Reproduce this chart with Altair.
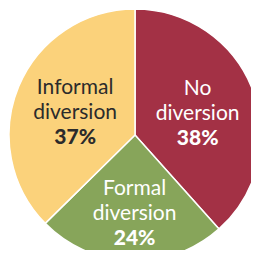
import altair as alt
import pandas as pd

categories = ["No diversion", "Formal diversion", "Informal diversion"]
values = [38, 24, 37]
line1 = ["No", "Formal", "Informal"]
line2 = ["diversion", "diversion", "diversion"]
pct_labels = ["38%", "24%", "37%"]
order_idx = [0, 1, 2]

slice_colors = ["#A33145", "#87A55A", "#FBD27B"]
text_colors = ["#FFFFFF", "#FFFFFF", "#2B2B2B"]

df = pd.DataFrame({
    "category": categories,
    "value": values,
    "l1": line1,
    "l2": line2,
    "pct": pct_labels,
    "idx": order_idx,
})

CX, CY, R = 127, 127, 126

base = alt.Chart(df)

arcs = base.mark_arc(outerRadius=R, stroke="white", strokeWidth=1.5).encode(
    theta=alt.Theta("value:Q", stack=True),
    order=alt.Order("idx:Q"),
    color=alt.Color("category:N", scale=alt.Scale(domain=categories, range=slice_colors), legend=None),
    x=alt.value(CX),
    y=alt.value(CY),
)

lab = base.transform_window(
    cum="sum(value)", sort=[alt.SortField("idx")]
).transform_joinaggregate(
    total="sum(value)"
).transform_calculate(
    mid="(datum.cum - datum.value/2) / datum.total * 2 * PI",
    r="datum.category == 'Formal diversion' ? 76 : 66",
).transform_calculate(
    lx=f"{CX} + datum.r * sin(datum.mid) + (datum.category == 'Formal diversion' ? 2 : 1)",
    ly=f"{CY} - datum.r * cos(datum.mid)",
)

pos = dict(
    x=alt.X("lx:Q", scale=None),
    y=alt.Y("ly:Q", scale=None),
    fill=alt.Fill("category:N", scale=alt.Scale(domain=categories, range=text_colors), legend=None),
)

t1 = lab.mark_text(font="Lato", fontSize=21, dy=-22, align="center", baseline="middle").encode(text="l1:N", **pos)
t2 = lab.mark_text(font="Lato", fontSize=21, dy=3, align="center", baseline="middle").encode(text="l2:N", **pos)
t3 = lab.mark_text(font="Lato", fontSize=21, fontWeight=900, dy=28, align="center", baseline="middle").encode(text="pct:N", **pos)

chart = alt.layer(arcs, t1, t2, t3).resolve_scale(
    color="independent", fill="independent"
).properties(
    width=243, height=242, padding=0, autosize=alt.AutoSizeParams(type="none")
).configure_view(stroke=None)

chart.save("out.html", embed_options={"renderer": "svg", "actions": False})
